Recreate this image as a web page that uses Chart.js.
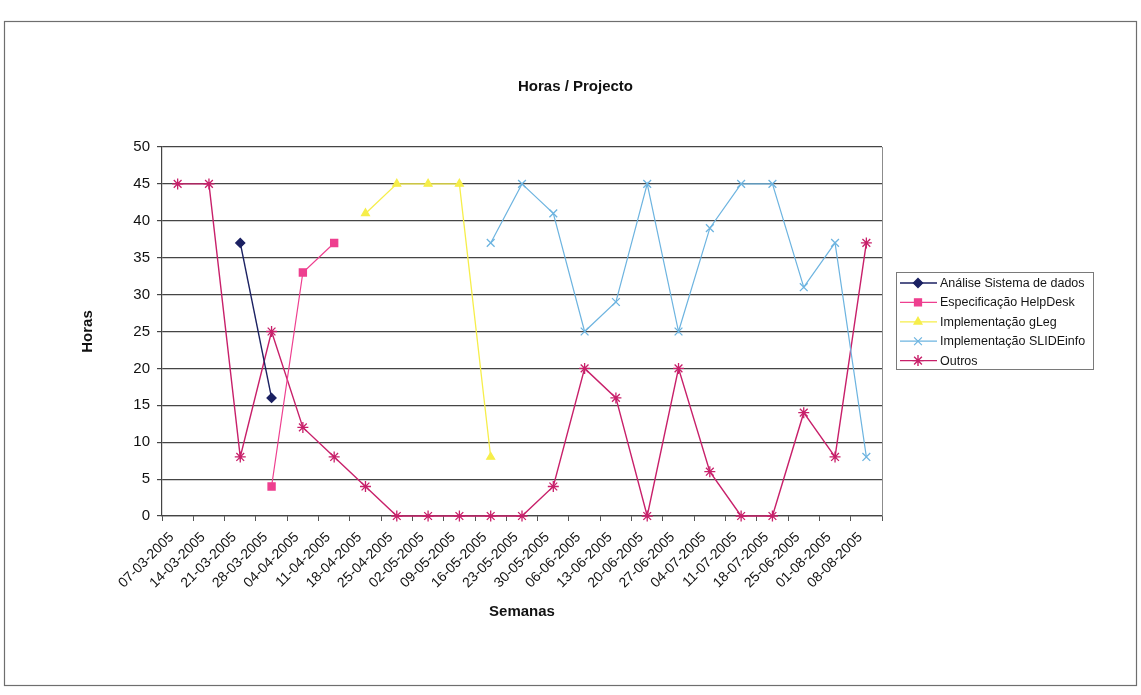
<!DOCTYPE html>
<html lang="pt">
<head>
<meta charset="utf-8">
<title>Horas / Projecto</title>
<script src="https://cdn.jsdelivr.net/npm/chart.js@4.4.1/dist/chart.umd.min.js"></script>
<style>
  html, body { margin: 0; padding: 0; background: #ffffff; }
  #wrap { position: relative; width: 1141px; height: 695px; }
</style>
</head>
<body>
<div id="wrap"><canvas id="grafico" width="1141" height="695"></canvas></div>
<script>
// Semanas (segunda-feira de cada semana)
const semanas = [
  '07-03-2005', '14-03-2005', '21-03-2005', '28-03-2005', '04-04-2005', '11-04-2005',
  '18-04-2005', '25-04-2005', '02-05-2005', '09-05-2005', '16-05-2005', '23-05-2005',
  '30-05-2005', '06-06-2005', '13-06-2005', '20-06-2005', '27-06-2005', '04-07-2005',
  '11-07-2005', '18-07-2005', '25-06-2005', '01-08-2005', '08-08-2005'
];

// Horas por projecto em cada semana (null = sem horas registadas)
const analiseSistema = [null, null, 37, 16, null, null, null, null, null, null, null, null,
                        null, null, null, null, null, null, null, null, null, null, null];
const especHelpDesk  = [null, null, null, 4, 33, 37, null, null, null, null, null, null,
                        null, null, null, null, null, null, null, null, null, null, null];
const implGLeg       = [null, null, null, null, null, null, 41, 45, 45, 45, 8, null,
                        null, null, null, null, null, null, null, null, null, null, null];
const implSlideInfo  = [null, null, null, null, null, null, null, null, null, null, 37, 45,
                        41, 25, 29, 45, 25, 39, 45, 45, 31, 37, 8];
const outros         = [45, 45, 8, 25, 12, 8, 4, 0, 0, 0, 0, 0,
                        4, 20, 16, 0, 20, 6, 0, 0, 14, 8, 37];

const nomesSeries = [
  'Análise Sistema de dados',
  'Especificação HelpDesk',
  'Implementação gLeg',
  'Implementação SLIDEinfo',
  'Outros'
];

const FONTE = 'Arial, "Liberation Sans", Helvetica, sans-serif';
Chart.defaults.font.family = FONTE;
Chart.defaults.color = '#111111';

function serie(nome, dados, cor, estilo, raio, espessura) {
  return {
    label: nome,
    data: dados,
    borderColor: cor,
    backgroundColor: cor,
    borderWidth: espessura,
    pointStyle: estilo,
    pointRadius: raio,
    pointBorderWidth: 1.3,
    pointBackgroundColor: cor,
    pointBorderColor: cor,
    tension: 0,
    spanGaps: false,
    clip: false,
    fill: false
  };
}

// Moldura da área do gráfico, contorno da área de desenho e legenda
const molduraELegenda = {
  id: 'molduraELegenda',
  beforeDraw(chart) {
    const ctx = chart.ctx;
    ctx.save();
    ctx.fillStyle = '#ffffff';
    ctx.fillRect(0, 0, chart.width, chart.height);
    ctx.strokeStyle = '#6e6e6e';
    ctx.lineWidth = 1.2;
    ctx.strokeRect(4.5, 21.5, 1132, 664);
    ctx.restore();
  },
  beforeDatasetsDraw(chart) {
    const { ctx, chartArea: a } = chart;
    ctx.save();
    ctx.strokeStyle = '#8c8c8c';
    ctx.lineWidth = 1;
    ctx.beginPath();
    ctx.moveTo(Math.round(a.right) + 0.5, a.top);
    ctx.lineTo(Math.round(a.right) + 0.5, a.bottom);
    ctx.stroke();
    ctx.restore();
  },
  afterDraw(chart) {
    const ctx = chart.ctx;
    const caixa = { x: 896, y: 272, w: 197, h: 97 };
    ctx.save();
    ctx.fillStyle = '#ffffff';
    ctx.fillRect(caixa.x, caixa.y, caixa.w, caixa.h);
    ctx.strokeStyle = '#7a7a7a';
    ctx.lineWidth = 1;
    ctx.strokeRect(caixa.x + 0.5, caixa.y + 0.5, caixa.w, caixa.h);
    ctx.font = '12.5px ' + FONTE;
    ctx.textBaseline = 'middle';
    ctx.textAlign = 'left';
    chart.data.datasets.forEach((ds, i) => {
      const y = caixa.y + 11 + i * 19.4;
      ctx.strokeStyle = ds.borderColor;
      ctx.lineWidth = ds.borderWidth;
      ctx.beginPath();
      ctx.moveTo(caixa.x + 4, y);
      ctx.lineTo(caixa.x + 41, y);
      ctx.stroke();
      ctx.fillStyle = ds.backgroundColor;
      Chart.helpers.drawPoint(ctx, {
        pointStyle: ds.pointStyle,
        radius: ds.pointRadius,
        borderWidth: ds.pointBorderWidth,
        rotation: 0
      }, caixa.x + 22, y);
      ctx.fillStyle = '#151515';
      ctx.fillText(ds.label, caixa.x + 44, y + 0.5);
    });
    ctx.restore();
  }
};

new Chart(document.getElementById('grafico'), {
  type: 'line',
  data: {
    labels: semanas,
    datasets: [
      serie(nomesSeries[0], analiseSistema, '#1b2162', 'rectRot', 4.5, 1.4),
      serie(nomesSeries[1], especHelpDesk, '#ee3f8f', 'rect', 5, 1.2),
      serie(nomesSeries[2], implGLeg, '#f6ee4a', 'triangle', 4.5, 1.3),
      serie(nomesSeries[3], implSlideInfo, '#6db4e0', 'crossRot', 5.5, 1.2),
      serie(nomesSeries[4], outros, '#c8206a', 'star', 5.5, 1.4)
    ]
  },
  options: {
    responsive: false,
    animation: false,
    devicePixelRatio: 1,
    events: [],
    layout: { padding: { left: 14, right: 4, top: 20, bottom: 50 } },
    plugins: {
      legend: { display: false },
      tooltip: { enabled: false },
      title: {
        display: true,
        text: 'Horas / Projecto',
        color: '#111111',
        font: { size: 15, weight: 'bold' },
        padding: { top: 58, bottom: 51 }
      }
    },
    scales: {
      x: {
        type: 'category',
        offset: true,
        grid: {
          display: true,
          drawOnChartArea: false,
          drawTicks: true,
          tickLength: 5,
          offset: true,
          color: '#555555'
        },
        border: { display: true, color: '#444444', width: 1.2 },
        ticks: {
          autoSkip: false,
          minRotation: 45,
          maxRotation: 45,
          padding: 8,
          labelOffset: -6,
          color: '#111111',
          font: { size: 14 }
        },
        title: {
          display: true,
          text: 'Semanas',
          color: '#111111',
          font: { size: 15, weight: 'bold' },
          padding: { top: 4, bottom: 24 }
        },
        afterFit(escala) { escala.height = 129; }
      },
      y: {
        type: 'linear',
        min: 0,
        max: 50,
        grid: { color: '#454545', lineWidth: 1.2, tickLength: 5 },
        border: { color: '#444444', width: 1.2 },
        ticks: { stepSize: 5, padding: 7, color: '#111111', font: { size: 15 } },
        title: {
          display: true,
          text: 'Horas',
          color: '#111111',
          font: { size: 15, weight: 'bold' },
          padding: { top: 65, bottom: 4 }
        },
        afterFit(escala) { escala.width = 148; }
      },
      lateral: {
        type: 'linear',
        position: 'right',
        min: 0,
        max: 1,
        grid: { display: false },
        border: { display: false },
        ticks: { display: false },
        afterFit(escala) { escala.width = 255; }
      }
    }
  },
  plugins: [molduraELegenda]
});
</script>
</body>
</html>
